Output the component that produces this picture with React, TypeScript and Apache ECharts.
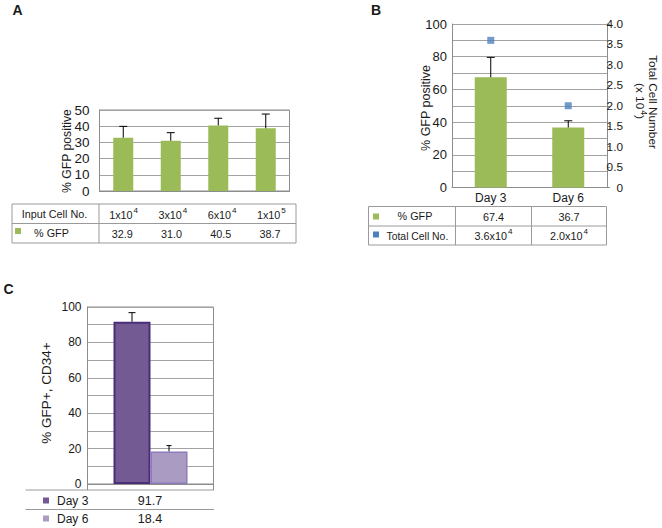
import React, { useEffect, useRef } from "react";
import * as echarts from "echarts";

// ---------- data ----------
const inputCellsA = ["1x10|4", "3x10|4", "6x10|4", "1x10|5"];
const gfpA = [32.9, 31.0, 40.5, 38.7];
const errA = [7.0, 5.0, 4.4, 8.8];

const daysB = ["Day 3", "Day 6"];
const gfpB = [67.4, 36.7];
const errB = [12.2, 4.1];
const cellsB = [3.6, 2.0];
const cellsLabelB = ["3.6x10|4", "2.0x10|4"];

const daysC = ["Day 3", "Day 6"];
const gfpCD34C = [91.7, 18.4];
const errC = [5.1, 3.3];

const ticksLeftA = [0, 10, 20, 30, 40, 50];
const ticksLeftB = [0, 20, 40, 60, 80, 100];
const ticksRightB = ["0", "0.5", "1.0", "1.5", "2.0", "2.5", "3.0", "3.5", "4.0"];
const ticksC = [0, 20, 40, 60, 80, 100];

// ---------- styles ----------
const FONT = "Liberation Sans, Arial, Helvetica, sans-serif";
const TXT = "#1a1a1a";
const GREEN = "#9bbb59";
const BLUE = "#4f81bd";
const GRID = "#a3a3a3";
const AXIS = "#8c8c8c";
const TABLE = "#9a9a9a";
const PURPLE_D = "#735a92";
const PURPLE_D_B = "#4a2f78";
const PURPLE_L = "#a99bc1";
const PURPLE_L_B = "#8d7bbb";

function supRich(s: string) {
  const [base, sup] = s.split("|");
  return `{b|${base}}{s|${sup}}`;
}

function rich(fs: number) {
  return {
    b: { fontSize: fs, fontFamily: FONT, fill: TXT, lineHeight: 16, verticalAlign: "middle" },
    s: { fontSize: fs * 0.75, fontFamily: FONT, fill: TXT, lineHeight: 16, verticalAlign: "top", padding: [0, 0, 0, 1] },
  } as any;
}

function errRender(offset: number, capW: number) {
  return (params: any, api: any) => {
    const x = api.value(0);
    const v = api.value(1);
    const e = api.value(2);
    const p0 = api.coord([x, v]);
    const p1 = api.coord([x, v + e]);
    const cx = p0[0] + offset;
    return {
      type: "group",
      children: [
        { type: "line", shape: { x1: cx, y1: p0[1], x2: cx, y2: p1[1] }, style: { stroke: "#000", lineWidth: 1 } },
        { type: "line", shape: { x1: cx - capW / 2, y1: p1[1], x2: cx + capW / 2, y2: p1[1] }, style: { stroke: "#000", lineWidth: 1 } },
      ],
    };
  };
}

function hline(x1: number, x2: number, y: number, color = TABLE) {
  return { type: "line", shape: { x1, y1: y, x2, y2: y }, style: { stroke: color, lineWidth: 1 }, silent: true };
}
function vline(x: number, y1: number, y2: number, color = TABLE) {
  return { type: "line", shape: { x1: x, y1, x2: x, y2 }, style: { stroke: color, lineWidth: 1 }, silent: true };
}
function txt(x: number, y: number, text: string, fs: number, align = "center", extra: any = {}) {
  return {
    type: "text",
    x,
    y,
    style: { text, fontSize: fs, fontFamily: FONT, fill: TXT, align, verticalAlign: "middle", ...extra },
    silent: true,
  };
}
function rtxt(x: number, y: number, text: string, fs: number) {
  return {
    type: "text",
    x,
    y,
    style: { text: supRich(text), rich: rich(fs), align: "center", verticalAlign: "middle" },
    silent: true,
  };
}
function rtitle(x: number, y: number, text: string, fs: number, rot: number) {
  return {
    type: "text",
    x,
    y,
    rotation: rot,
    style: { text, fontSize: fs, fontFamily: FONT, fill: TXT, align: "center", verticalAlign: "middle" },
    silent: true,
  };
}
function square(cx: number, cy: number, size: number, color: string) {
  return { type: "rect", shape: { x: cx - size / 2, y: cy - size / 2, width: size, height: size }, style: { fill: color }, silent: true };
}

function buildGraphics() {
  const g: any[] = [];
  // panel letters
  g.push(txt(12.5, 10, "A", 14, "left", { fontWeight: "bold" }));
  g.push(txt(371, 9.5, "B", 14, "left", { fontWeight: "bold" }));
  g.push(txt(3.5, 289, "C", 14, "left", { fontWeight: "bold" }));

  // axis titles
  g.push(rtitle(67, 151, "% GFP positive", 12.2, Math.PI / 2));
  g.push(rtitle(426, 108, "% GFP positive", 12.5, Math.PI / 2));
  g.push(rtitle(653, 102, "Total Cell Number", 11.8, -Math.PI / 2));
  g.push({
    type: "text",
    x: 640,
    y: 101,
    rotation: -Math.PI / 2,
    style: { text: "{b|(x 10}{s|4}{b|)}", rich: rich(11.8), align: "center", verticalAlign: "middle" },
    silent: true,
  });
  g.push(rtitle(46.5, 393, "% GFP+, CD34+", 13.5, Math.PI / 2));

  // ---- table A ----
  const aL = 12, aR = 296, aT = 204, aM = 223.5, aB = 243, aC = 99;
  g.push(hline(aL, aR, aT), hline(aL, aR, aM), hline(aL, aR, aB), vline(aL, aT, aB), vline(aR, aT, aB), vline(aC, aT, aB));
  g.push(txt(54.5, (aT + aM) / 2, "Input Cell No.", 10.8));
  g.push(square(18, 231, 6, GREEN));
  g.push(txt(51.5, (aM + aB) / 2, "% GFP", 10.8));
  const colW = (aR - aC) / inputCellsA.length;
  inputCellsA.forEach((c, i) => {
    const cx = aC + colW * (i + 0.5);
    g.push(rtxt(cx, (aT + aM) / 2 + 1, c, 10.8));
    g.push(txt(cx - 1.5, (aM + aB) / 2 + 0.5, gfpA[i].toFixed(1), 10.8));
  });

  // ---- table B ----
  const bL = 368.5, bR = 606.5, bT = 206.5, bM = 226, bB = 245, bC1 = 455.5, bC2 = 531.5;
  g.push(hline(bL, bR, bT), hline(bL, bR, bM), hline(bL, bR, bB), vline(bL, bT, bB), vline(bR, bT, bB), vline(bC1, bT, bB), vline(bC2, bT, bB));
  g.push(square(376, 216.5, 6, GREEN));
  g.push(txt(415, (bT + bM) / 2, "% GFP", 10.8));
  g.push(square(376, 234.5, 6, BLUE));
  g.push(txt(386.5, (bM + bB) / 2 + 0.5, "Total Cell No.", 10.4, "left"));
  const bCols = [(bC1 + bC2) / 2, (bC2 + bR) / 2];
  daysB.forEach((_, i) => {
    g.push(txt(bCols[i], (bT + bM) / 2 + 1, gfpB[i].toFixed(1), 10.8));
    g.push(rtxt(bCols[i], (bM + bB) / 2, cellsLabelB[i], 10.8));
  });

  // ---- table C ----
  const cL = 25.5, cR = 214, cT = 490, cM = 509.5;
  g.push(hline(cL, cR, cT), hline(cL, cR, cM));
  g.push(vline(87.5, 484, cT, AXIS), vline(213.5, 484, cT, AXIS));
  const sqColors = [PURPLE_D, PURPLE_L];
  const rowsY = [500.5, 518.5];
  daysC.forEach((d, i) => {
    g.push(square(46, rowsY[i], 6, sqColors[i]));
    g.push(txt(57, rowsY[i], d, 12, "left"));
    g.push(txt(150, rowsY[i], gfpCD34C[i].toFixed(1), 12.5));
  });
  return g;
}

export default function App() {
  const ref = useRef<HTMLDivElement>(null);
  useEffect(() => {
    if (!ref.current) return;
    const chart = echarts.init(ref.current, undefined, { renderer: "svg" });
    const labelStyle = { fontFamily: FONT, color: TXT };
    const option: any = {
      animation: false,
      backgroundColor: "#fff",
      grid: [
        { left: 99.5, right: 662 - 289.5, top: 110, bottom: 528 - 191, show: true, borderColor: AXIS, borderWidth: 1, containLabel: false },
        { left: 452, right: 662 - 607, top: 24, bottom: 528 - 187.5, show: false, containLabel: false },
        { left: 87.5, right: 662 - 213.5, top: 307, bottom: 528 - 484, show: true, borderColor: AXIS, borderWidth: 1, containLabel: false },
      ],
      xAxis: [
        {
          type: "category", gridIndex: 0, data: inputCellsA,
          axisLine: { lineStyle: { color: AXIS } }, axisTick: { show: false }, axisLabel: { show: false },
        },
        {
          type: "category", gridIndex: 1, data: daysB,
          axisLine: { lineStyle: { color: AXIS } }, axisTick: { show: false },
          axisLabel: { ...labelStyle, fontSize: 12, margin: 4 },
        },
        {
          type: "category", gridIndex: 2, data: ["C"],
          axisLine: { lineStyle: { color: AXIS } }, axisTick: { show: false }, axisLabel: { show: false },
        },
      ],
      yAxis: [
        {
          type: "value", gridIndex: 0, min: ticksLeftA[0], max: ticksLeftA[ticksLeftA.length - 1], interval: 10,
          axisLine: { show: true, lineStyle: { color: AXIS } }, axisTick: { show: false },
          axisLabel: { ...labelStyle, fontSize: 13.5, margin: 10 },
          splitLine: { show: true, lineStyle: { color: GRID } },
        },
        {
          type: "value", gridIndex: 1, min: ticksLeftB[0], max: ticksLeftB[ticksLeftB.length - 1], interval: 10,
          axisLine: { show: true, lineStyle: { color: AXIS } }, axisTick: { show: false },
          axisLabel: {
            ...labelStyle, fontSize: 13, margin: 5, showMinLabel: true, showMaxLabel: true,
            formatter: (v: number) => (ticksLeftB.includes(v) ? String(v) : ""),
          },
          splitLine: { show: true, lineStyle: { color: GRID } },
        },
        {
          type: "value", gridIndex: 1, position: "right", min: 0, max: 4, interval: 0.5,
          axisLine: { show: true, lineStyle: { color: AXIS } },
          axisTick: { show: true, inside: false, length: 3, lineStyle: { color: AXIS } },
          axisLabel: {
            ...labelStyle, fontSize: 11.8, margin: 16, align: "right",
            formatter: (v: number) => ticksRightB[Math.round(v / 0.5)] ?? "",
          },
          splitLine: { show: false },
        },
        {
          type: "value", gridIndex: 2, min: ticksC[0], max: ticksC[ticksC.length - 1], interval: 10,
          axisLine: { show: true, lineStyle: { color: AXIS } }, axisTick: { show: false },
          axisLabel: {
            ...labelStyle, fontSize: 12, margin: 6,
            formatter: (v: number) => (ticksC.includes(v) ? String(v) : ""),
          },
          splitLine: { show: true, lineStyle: { color: GRID } },
        },
      ],
      series: [
        // Panel A
        {
          type: "bar", xAxisIndex: 0, yAxisIndex: 0, data: gfpA, barWidth: 20,
          itemStyle: { color: GREEN },
        },
        {
          type: "custom", xAxisIndex: 0, yAxisIndex: 0,
          data: gfpA.map((v, i) => [i, v, errA[i]]),
          renderItem: errRender(0, 8), z: 5,
        },
        // Panel B
        {
          type: "bar", xAxisIndex: 1, yAxisIndex: 1, data: gfpB, barWidth: 32,
          itemStyle: { color: GREEN },
        },
        {
          type: "custom", xAxisIndex: 1, yAxisIndex: 1,
          data: gfpB.map((v, i) => [i, v, errB[i]]),
          renderItem: errRender(0, 8), z: 5,
        },
        {
          type: "scatter", xAxisIndex: 1, yAxisIndex: 2, data: cellsB, symbol: "rect", symbolSize: 7,
          itemStyle: { color: BLUE }, z: 6,
        },
        // Panel C
        {
          name: daysC[0], type: "bar", xAxisIndex: 2, yAxisIndex: 3, data: [gfpCD34C[0]], barWidth: 37, barGap: "0%",
          itemStyle: { color: PURPLE_D, borderColor: PURPLE_D_B, borderWidth: 2 },
        },
        {
          name: daysC[1], type: "bar", xAxisIndex: 2, yAxisIndex: 3, data: [gfpCD34C[1]], barWidth: 37, barGap: "0%",
          itemStyle: { color: PURPLE_L, borderColor: PURPLE_L_B, borderWidth: 1.5 },
        },
        {
          type: "custom", xAxisIndex: 2, yAxisIndex: 3,
          data: [[0, gfpCD34C[0], errC[0]]],
          renderItem: errRender(-18.5, 7), z: 5,
        },
        {
          type: "custom", xAxisIndex: 2, yAxisIndex: 3,
          data: [[0, gfpCD34C[1], errC[1]]],
          renderItem: errRender(18.5, 5), z: 5,
        },
      ],
      graphic: buildGraphics(),
    };
    chart.setOption(option);
    return () => chart.dispose();
  }, []);
  return (
    <div
      ref={ref}
      style={{ position: "absolute", left: 0, top: 0, width: 662, height: 528, background: "#fff" }}
    />
  );
}
